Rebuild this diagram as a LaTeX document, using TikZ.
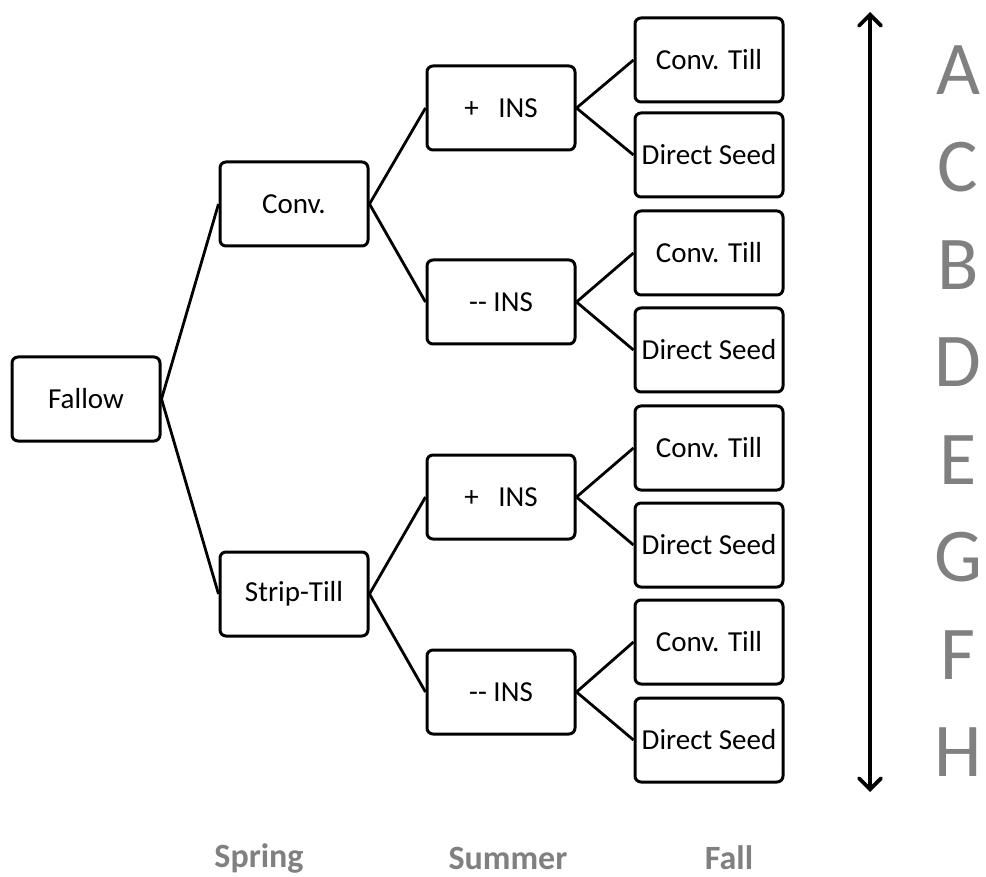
\documentclass[tikz,border=0pt]{standalone}
\usepackage{fontspec}
\setmainfont{Carlito}
\usetikzlibrary{positioning,arrows.meta}
\definecolor{lettergray}{RGB}{128,128,128}

\begin{document}
\begin{tikzpicture}[
  x=1pt,y=-1pt,
  every node/.style={font=\fontsize{29}{32}\selectfont},
  stagebox/.style={draw,line width=3pt,rounded corners=6pt,
    minimum width=148pt,minimum height=84pt,inner sep=0pt},
  branch/.style={line width=2.8pt},
  season/.style={lettergray,font=\fontsize{34}{38}\selectfont\bfseries},
  plot/.style={lettergray,font=\fontsize{76}{82}\selectfont}
]
  \useasboundingbox (0,0) rectangle (986,877);

  % Fruehjahr
  \node[stagebox] (fallow) at (86,399) {Fallow};
  \node[stagebox] (conv)   at (294,204) {Conv.};
  \node[stagebox] (strip)  at (294,594) {Strip-Till};

  % Sommer
  \node[stagebox] (insA) at (501,108) {+\ \ \ INS};
  \node[stagebox] (insB) at (501,302) {-{}- INS};
  \node[stagebox] (insC) at (501,497) {+\ \ \ INS};
  \node[stagebox] (insD) at (501,692) {-{}- INS};

  % Herbst
  \node[stagebox] (tillA) at (709,60)  {Conv. Till};
  \node[stagebox] (seedA) at (709,155) {Direct Seed};
  \node[stagebox] (tillB) at (709,253) {Conv. Till};
  \node[stagebox] (seedB) at (709,350) {Direct Seed};
  \node[stagebox] (tillC) at (709,448) {Conv. Till};
  \node[stagebox] (seedC) at (709,545) {Direct Seed};
  \node[stagebox] (tillD) at (709,642) {Conv. Till};
  \node[stagebox] (seedD) at (709,740) {Direct Seed};

  % Verzweigungen
  \draw[branch] (fallow.east) -- (conv.west);
  \draw[branch] (fallow.east) -- (strip.west);
  \draw[branch] (conv.east) -- (insA.west);
  \draw[branch] (conv.east) -- (insB.west);
  \draw[branch] (strip.east) -- (insC.west);
  \draw[branch] (strip.east) -- (insD.west);
  \draw[branch] (insA.east) -- (tillA.west);
  \draw[branch] (insA.east) -- (seedA.west);
  \draw[branch] (insB.east) -- (tillB.west);
  \draw[branch] (insB.east) -- (seedB.west);
  \draw[branch] (insC.east) -- (tillC.west);
  \draw[branch] (insC.east) -- (seedC.west);
  \draw[branch] (insD.east) -- (tillD.west);
  \draw[branch] (insD.east) -- (seedD.west);

  % Doppelpfeil
  \coordinate (arrtop) at (870,12);
  \coordinate (arrbot) at (870,792);
  \draw[line width=3.8pt,
    {Straight Barb[length=11pt,width=22pt,line cap=round]}-{Straight Barb[length=11pt,width=22pt,line cap=round]}]
    (arrtop) -- (arrbot);

  % Varianten
  \node[plot] (lA) at (958,70)  {A};
  \node[plot] (lC) at (958,167) {C};
  \node[plot] (lB) at (958,265) {B};
  \node[plot] (lD) at (958,362) {D};
  \node[plot] (lE) at (958,460) {E};
  \node[plot] (lG) at (958,557) {G};
  \node[plot] (lF) at (958,655) {F};
  \node[plot] (lH) at (958,752) {H};

  % Jahreszeiten
  \node[season] (spring) at (259,858) {Spring};
  \node[season] (summer) at (508,858) {Summer};
  \node[season] (fall)   at (729,858) {Fall};
\end{tikzpicture}
\end{document}
